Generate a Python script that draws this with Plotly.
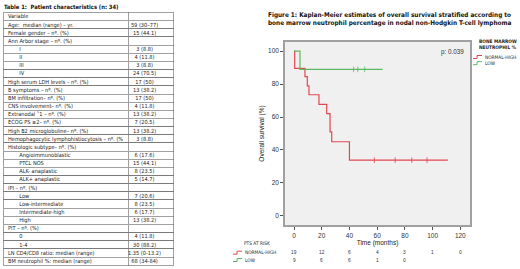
import plotly.graph_objects as go

# ---------------- data ----------------
table_title = "Table 1:  Patient characteristics (n: 34)"
table_header = ["Variable", ""]
table_labels = [
    "Age:  median (range) – yr.", "Female gender – nº. (%)", "Ann Arbor stage – nº. (%)",
    "I", "II", "III", "IV",
    "High serum LDH levels – nº. (%)", "B symptoms – nº. (%)", "BM infiltration– nº. (%)",
    "CNS involvement– nº. (%)", "Extranodal \u02c31 – nº. (%)", "ECOG PS ≥2– nº. (%)",
    "High B2 microglobuline– nº. (%)", "Hemophagocytic lymphohistiocytosis – nº. (%)",
    "Histologic subtype– nº. (%)",
    "Angioimmunoblastic", "PTCL NOS", "ALK- anaplastic", "ALK+ anaplastic",
    "IPI – nº. (%)", "Low", "Low-intermediate", "Intermediate-high", "High",
    "PIT – nº. (%)", "0", "1-4",
    "LN CD4/CD8 ratio: median (range)", "BM neutrophil %: median (range)",
]
table_indent = [
    0, 0, 0, 1, 1, 1, 1, 0, 0, 0, 0, 0, 0, 0, 0, 0, 1, 1, 1, 1,
    0, 1, 1, 1, 1, 0, 1, 1, 0, 0,
]
table_values = [
    "59 (30–77)", "15 (44.1)", "", "3 (8.8)", "4 (11.8)", "3 (8.8)", "24 (70.5)",
    "17 (50)", "13 (38.2)", "17 (50)", "4 (11.8)", "13 (38.2)", "7 (20.5)",
    "13 (38.2)", "3 (8.8)", "", "6 (17.6)", "15 (44.1)", "8 (23.5)", "5 (14.7)",
    "", "7 (20.6)", "8 (23.5)", "6 (17.7)", "13 (38.2)", "", "4 (11.8)", "30 (88.2)",
    "1.35 (0-13.2)", "68 (34-84)",
]

fig_title = ("Figure 1: Kaplan-Meier estimates of overall survival stratified according to<br>"
             "bone marrow neutrophil percentage in nodal non-Hodgkin T-cell lymphoma")
p_text = "p: 0.039"
legend_title = "BONE MARROW<br>NEUTROPHIL %"
group_names = ["NORMAL-HIGH", "LOW"]

x_ticks = [0, 20, 40, 60, 80, 100, 120]
y_ticks = [0, 20, 40, 60, 80, 100]

red_time = [0, 0.5, 7.9, 9.6, 10.8, 18.0, 23.6, 26.0, 27.2, 40.0, 111.0]
red_surv = [100, 89.5, 84.5, 78.9, 73.5, 67.7, 62.0, 51.0, 45.0, 33.8, 33.8]
red_cens_time = [58, 73, 85, 96]

green_time = [0, 4.3, 64.0]
green_surv = [100, 88.9, 88.9]
green_cens_time = [43, 46, 51]

risk_title = "PTS AT RISK"
risk_red = [19, 12, 6, 4, 3, 1, 0]
risk_green = [9, 6, 6, 1, 0]

# ---------------- styling ----------------
W, H = 520, 269
RED = "#e2474f"
GREEN = "#5cb860"
NARROW = "Liberation Sans Narrow, DejaVu Sans Condensed, Liberation Sans, sans-serif"
SANS = "Liberation Sans, Arial, sans-serif"


def px(x):
    return x / W


def py(y):
    return 1 - y / H


def nb(s):
    return s.replace(" ", "\u00a0")


fig = go.Figure()

# ---------------- table ----------------
row_h = 8.15
tbl_top, tbl_left, tbl_right = 12.5, 3, 173
col_w = [125, 45]
text_lift = 6.3          # table text is drawn below the row top; lift the text layer
text_shift_x = 7         # compensate for the table's inner cell padding

labels_shown = [nb(("\u00a0" * 7 if ind else "") + lab) for lab, ind in zip(table_labels, table_indent)]
values_shown = [nb(v) for v in table_values]

# grid layer
fig.add_trace(go.Table(
    domain=dict(x=[px(tbl_left), px(tbl_right)], y=[py(268), py(tbl_top)]),
    columnwidth=col_w,
    header=dict(values=["", ""], height=row_h, fill_color="white",
                line=dict(color="#606060", width=0.6), font=dict(size=5)),
    cells=dict(values=[[""] * len(table_labels), [""] * len(table_labels)], height=row_h,
               fill_color="white", line=dict(color="#606060", width=0.6), font=dict(size=5)),
))
# text layer
fig.add_trace(go.Table(
    domain=dict(x=[px(max(tbl_left - text_shift_x, 0)), px(tbl_right - text_shift_x)],
                y=[0, py(tbl_top - text_lift)]),
    columnwidth=[col_w[0] - (tbl_left - max(tbl_left - text_shift_x, 0)) + text_shift_x, col_w[1]],
    header=dict(values=[nb(h) for h in table_header], height=row_h, align=["left", "center"],
                fill_color="rgba(0,0,0,0)", line=dict(color="rgba(0,0,0,0)", width=0),
                font=dict(family=NARROW, size=5.6, color="#222")),
    cells=dict(values=[labels_shown, values_shown], height=row_h, align=["left", "center"],
               fill_color="rgba(0,0,0,0)", line=dict(color="rgba(0,0,0,0)", width=0),
               font=dict(family=NARROW, size=5.6, color="#222")),
))

# ---------------- KM curves ----------------
fig.add_trace(go.Scatter(x=red_time, y=red_surv, mode="lines", line=dict(color=RED, width=1.2, shape="hv"),
                         showlegend=False, hoverinfo="skip"))
fig.add_trace(go.Scatter(x=green_time, y=green_surv, mode="lines", line=dict(color=GREEN, width=1.2, shape="hv"),
                         showlegend=False, hoverinfo="skip"))
fig.add_trace(go.Scatter(x=red_cens_time, y=[red_surv[-1]] * len(red_cens_time), mode="markers",
                         marker=dict(symbol="line-ns", size=4, line=dict(color=RED, width=0.8)),
                         showlegend=False, hoverinfo="skip"))
fig.add_trace(go.Scatter(x=green_cens_time, y=[green_surv[-1]] * len(green_cens_time), mode="markers",
                         marker=dict(symbol="line-ns", size=4, line=dict(color=GREEN, width=0.8)),
                         showlegend=False, hoverinfo="skip"))

fig.update_xaxes(domain=[px(285), px(470)], range=[-6.5, 127], tickvals=x_ticks,
                 ticks="outside", ticklen=3, tickcolor="#555", showline=True, mirror=True,
                 linecolor="#a0a0a0", linewidth=1.5, showgrid=False, zeroline=False,
                 tickfont=dict(family=SANS, size=6.5, color="#333"),
                 title=dict(text="Time (months)", font=dict(family=SANS, size=6.5, color="#222"), standoff=3))
fig.update_yaxes(domain=[py(225), py(42)], range=[-5.5, 105.5], tickvals=y_ticks,
                 ticks="outside", ticklen=3, tickcolor="#555", showline=True, mirror=True,
                 linecolor="#a0a0a0", linewidth=1.5, showgrid=False, zeroline=False,
                 tickfont=dict(family=SANS, size=6.5, color="#333"),
                 title=dict(text="Overall survival (%)", font=dict(family=SANS, size=6.5, color="#222"), standoff=3))

ann = []
ann.append(dict(text="<b>" + table_title + "</b>", x=px(2), y=py(7), xref="paper", yref="paper",
                xanchor="left", yanchor="middle", showarrow=False,
                font=dict(family=NARROW, size=5.8, color="#111")))
ann.append(dict(text="<b>" + fig_title + "</b>", x=px(266), y=py(19), xref="paper", yref="paper",
                xanchor="left", yanchor="middle", align="left", showarrow=False,
                font=dict(family=NARROW, size=6.4, color="#111")))
ann.append(dict(text=p_text, x=px(466), y=py(52), xref="paper", yref="paper",
                xanchor="right", yanchor="middle", showarrow=False,
                font=dict(family=SANS, size=6.3, color="#333")))
# legend (manual)
ann.append(dict(text="<b>" + legend_title + "</b>", x=px(477), y=py(45), xref="paper", yref="paper",
                xanchor="left", yanchor="middle", align="left", showarrow=False,
                font=dict(family=NARROW, size=4.8, color="#222")))
for i, name in enumerate(group_names):
    ann.append(dict(text=name, x=px(483), y=py(57 + 6.2 * i), xref="paper", yref="paper",
                    xanchor="left", yanchor="middle", showarrow=False,
                    font=dict(family=NARROW, size=4.8, color="#222")))
# at risk table
ann.append(dict(text=risk_title, x=px(257), y=py(243), xref="paper", yref="paper",
                xanchor="center", yanchor="middle", showarrow=False,
                font=dict(family=NARROW, size=4.8, color="#222")))
for i, name in enumerate(group_names):
    ann.append(dict(text=name, x=px(243), y=py(252.7 + 7.3 * i), xref="paper", yref="paper",
                    xanchor="left", yanchor="middle", showarrow=False,
                    font=dict(family=NARROW, size=4.8, color="#222")))
for row, counts in enumerate([risk_red, risk_green]):
    for t, n in zip(x_ticks, counts):
        ann.append(dict(text=str(n), x=t, y=py(252.7 + 7.3 * row), xref="x", yref="paper",
                        xanchor="center", yanchor="middle", showarrow=False,
                        font=dict(family=SANS, size=4.8, color="#333")))

shapes = []


def step_icon(x0, yc, color):
    w = 9
    path = (f"M {px(x0)} {py(yc + 1.5)} L {px(x0 + w * 0.45)} {py(yc + 1.5)} "
            f"L {px(x0 + w * 0.45)} {py(yc - 1.5)} L {px(x0 + w)} {py(yc - 1.5)}")
    return dict(type="path", path=path, xref="paper", yref="paper",
                line=dict(color=color, width=1))


shapes.append(step_icon(473, 57, RED))
shapes.append(step_icon(473, 63.2, GREEN))
shapes.append(step_icon(233, 252.7, RED))
shapes.append(step_icon(233, 260.0, GREEN))

fig.update_layout(width=W, height=H, autosize=False, margin=dict(l=0, r=0, t=0, b=0),
                  paper_bgcolor="white", plot_bgcolor="#f0f0f0", showlegend=False,
                  annotations=ann, shapes=shapes)

fig.write_html("out.html", config={"displayModeBar": False},
               post_script="document.body.style.margin='0';")
